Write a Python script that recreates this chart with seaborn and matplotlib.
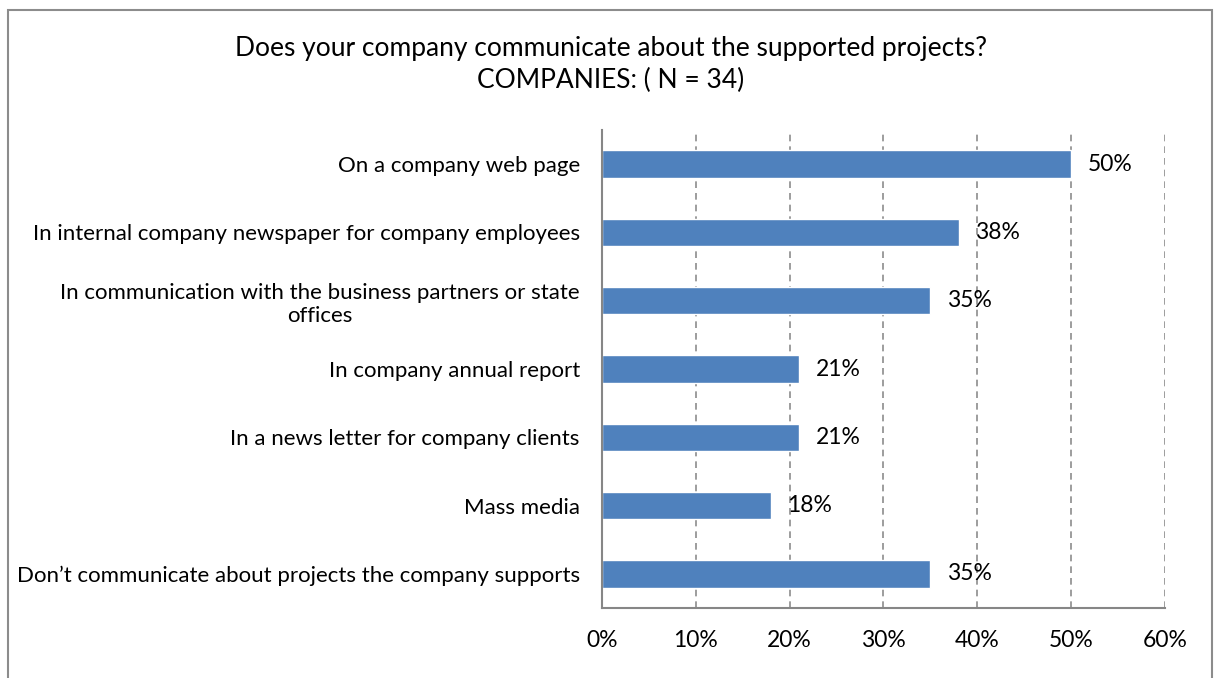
import matplotlib
matplotlib.use("Agg")
import matplotlib.pyplot as plt
from matplotlib.patches import Rectangle
from matplotlib.ticker import FuncFormatter, FixedLocator
import seaborn as sns
import pandas as pd

categories = [
    "On a company web page",
    "In internal company newspaper for company employees",
    "In communication with the business partners or state\noffices",
    "In company annual report",
    "In a news letter for company clients",
    "Mass media",
    "Don\u2019t communicate about projects the company supports",
]
values = [50, 38, 35, 21, 21, 18, 35]
x_ticks = [0, 10, 20, 30, 40, 50, 60]

title_text = "Does your company communicate about the supported projects?\nCOMPANIES: ( N = 34)"

sns.set_style("white")
plt.rcParams["font.family"] = ["Lato", "DejaVu Sans"]
plt.rcParams["text.color"] = "black"
plt.rcParams["xtick.color"] = "black"
plt.rcParams["ytick.color"] = "black"

df = pd.DataFrame({"category": categories, "value": values})

fig = plt.figure(figsize=(12.14, 6.78), dpi=100)
ax = fig.add_axes([0.4959, 0.1032, 0.4637, 0.7051])

sns.barplot(data=df, x="value", y="category", orient="h", color="#4F81BD",
            saturation=1, width=0.4, ax=ax)

ax.set_xlim(0, 60)
ax.set_ylim(len(categories) - 0.5, -0.5)
ax.xaxis.set_major_locator(FixedLocator(x_ticks))
ax.xaxis.set_major_formatter(FuncFormatter(lambda v, _: f"{v:.0f}%"))
ax.set_xlabel("")
ax.set_ylabel("")

# dashed vertical gridlines
for t in x_ticks[1:]:
    ax.axvline(t, color="#8C8C8C", linestyle=(0, (4, 3)), linewidth=1.2, zorder=0)

# y ticks sit between categories, labels centered on bars
ax.set_yticks([i - 0.5 for i in range(len(categories) + 1)], minor=False)
ax.set_yticklabels([""] * (len(categories) + 1))
ax.set_yticks(range(len(categories)), minor=True)
ax.set_yticklabels(categories, minor=True, fontsize=16, multialignment="center")
ax.tick_params(axis="y", which="minor", length=0, pad=16)
ax.tick_params(axis="y", which="major", length=6, width=1.3, color="#868686", direction="out")
ax.tick_params(axis="x", length=6, width=1.3, color="#868686", direction="out",
               labelsize=16.5, pad=10)

for side in ("top", "right"):
    ax.spines[side].set_visible(False)
for side in ("left", "bottom"):
    ax.spines[side].set_color("#868686")
    ax.spines[side].set_linewidth(1.5)

for cont in ax.containers:
    ax.bar_label(cont, labels=[f"{v}%" for v in values], padding=12, fontsize=16.5)

fig.text(0.503, 0.905, title_text, ha="center", va="center", fontsize=19,
         linespacing=1.38)

fig.patches.append(Rectangle((0.0066, -0.02), 0.992, 1.005, transform=fig.transFigure,
                             fill=False, edgecolor="#8C8C8C", linewidth=1.5))

fig.savefig("out.png", dpi=100)
